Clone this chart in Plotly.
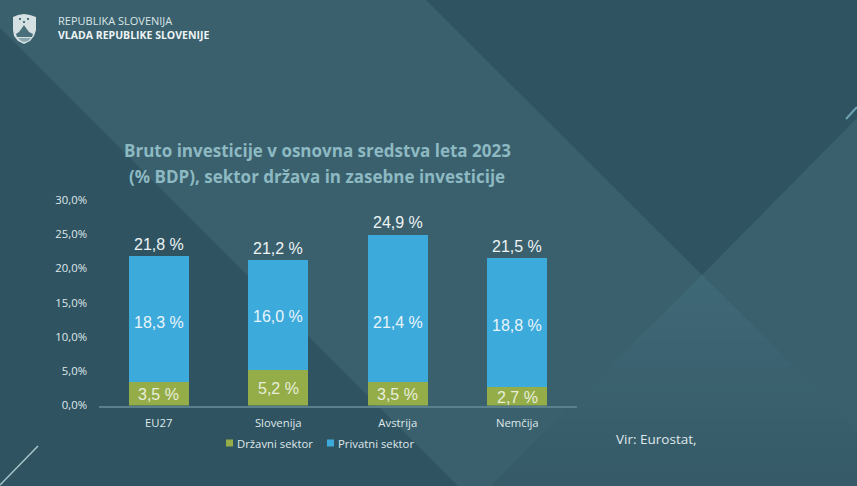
import plotly.graph_objects as go

W, H = 857, 486
categories = ["EU27", "Slovenija", "Avstrija", "Nemčija"]
drzavni = [3.5, 5.2, 3.5, 2.7]
privatni = [18.3, 16.0, 21.4, 18.8]
skupaj = [21.8, 21.2, 24.9, 21.5]
tick_values = [0, 5, 10, 15, 20, 25, 30]
tick_labels = ["0,0%", "5,0%", "10,0%", "15,0%", "20,0%", "25,0%", "30,0%"]
GREEN, BLUE = "#95ad49", "#3daadc"
TICK_FONT = dict(family="Open Sans", size=11.3, color="#dfe8ea")
# pixel nudges of the labels inside the blue bars, as placed on the slide
PRIVATE_LABEL_NUDGE = [-4, -1, -14, -3]

def lab(v):
    return f"{v:.1f} %".replace(".", ",")

def px(x): return x / W
def py(y): return 1 - y / H
def poly(pts, fill, layer="below"):
    path = "M" + " L".join(f"{px(x):.5f},{py(y):.5f}" for x, y in pts) + " Z"
    return dict(type="path", xref="paper", yref="paper", path=path, fillcolor=fill, line_width=0, layer=layer)
def seg(x0, y0, x1, y1, col, w):
    return dict(type="line", xref="paper", yref="paper", x0=px(x0), y0=py(y0), x1=px(x1), y1=py(y1),
                line=dict(color=col, width=w), layer="below")

fig = go.Figure()
fig.add_bar(name="Državni sektor", x=categories, y=drzavni, marker=dict(color=GREEN, line_width=0), hoverinfo="skip")
fig.add_bar(name="Privatni sektor", x=categories, y=privatni, marker=dict(color=BLUE, line_width=0), hoverinfo="skip")

base = "#3a606d"
dark = "#2f5361"
shapes = [
    poly([(0, 28), (458, 486), (0, 486)], dark),
    poly([(426, 0), (702, 275), (857, 118), (857, 0)], dark),
]
# the lower triangle darkens towards the bottom of the slide
top_rgb, bot_rgb = (0x3f, 0x68, 0x76), (0x36, 0x5a, 0x67)
n = 16
for i in range(n):
    t = i / (n - 1)
    y0 = 275 + i * (486 - 275) / n
    xl, xr = 702 - (y0 - 275), 702 + (y0 - 275)
    pts = [(xl, y0), (min(xr, 857), y0)]
    if xr < 857:
        pts.append((857, 430))
    pts += [(857, 486), (492, 486)]
    rgb = [round(a + (b - a) * t) for a, b in zip(top_rgb, bot_rgb)]
    shapes.append(poly(pts, f"rgb({rgb[0]},{rgb[1]},{rgb[2]})"))
shapes += [
    seg(0, 485, 38, 446, "#a9c5cc", 1.5),
    seg(846, 119, 857, 107, "#6fa3b2", 2),
    # grb
    poly([(13, 17), (18, 15), (24, 14), (30, 15), (36, 17), (36, 30), (34, 36), (30, 41), (24, 44), (18, 41), (14, 36), (13, 30)], "#d5e0e3"),
    poly([(16, 34), (19, 32), (22, 28), (24, 25), (26, 28), (29, 32), (33, 34), (32, 37), (17, 37)], "#4a6f7b"),
    poly([(18, 38), (31, 38), (28, 41), (24, 42), (21, 41)], "#8aa6ae"),
    poly([(19, 18), (21, 18), (21, 20), (19, 20)], "#4a6f7b"),
    poly([(27, 18), (29, 18), (29, 20), (27, 20)], "#4a6f7b"),
    poly([(23, 21), (25, 21), (25, 23), (23, 23)], "#4a6f7b"),
    # legend swatches
    poly([(226, 439.5), (233, 439.5), (233, 446.5), (226, 446.5)], GREEN),
    poly([(327, 439.5), (334, 439.5), (334, 446.5), (327, 446.5)], BLUE),
]

def note(x, y, text, font, xanchor="center"):
    return dict(xref="paper", yref="paper", x=px(x), y=py(y), xanchor=xanchor, yanchor="middle",
                text=text, showarrow=False, font=font, borderpad=0, borderwidth=0)
def bar_note(cat, y, text, color, shift=0):
    return dict(xref="x", yref="y", x=cat, y=y, yanchor="middle", yshift=shift, text=text, showarrow=False,
                borderpad=0, font=dict(family="Liberation Sans", size=16, color=color))

title_font = dict(family="Open Sans", size=17, color="#8db9c2", weight=700)
annotations = [
    note(317, 150, "Bruto investicije v osnovna sredstva leta 2023", title_font),
    note(317, 176, "(% BDP), sektor država in zasebne investicije", title_font),
    note(58, 21, "REPUBLIKA SLOVENIJA", dict(family="Open Sans", size=11, color="#dbe5e7"), "left"),
    note(58, 35, "VLADA REPUBLIKE SLOVENIJE", dict(family="Open Sans", size=10.5, color="#eef3f4", weight=700), "left"),
    note(616, 439, "Vir: Eurostat,", dict(family="Open Sans", size=13.5, color="#dfe8ea"), "left"),
    note(237, 443, "Državni sektor", TICK_FONT, "left"),
    note(338, 443, "Privatni sektor", TICK_FONT, "left"),
]
for c, d, p, s, nudge in zip(categories, drzavni, privatni, skupaj, PRIVATE_LABEL_NUDGE):
    annotations.append(bar_note(c, d / 2, lab(d), "#e8eedb", -1))
    annotations.append(bar_note(c, d + p / 2, lab(p), "#e9f5fb", nudge))
    annotations.append(bar_note(c, s, lab(s), "#eef3f4", 12))

fig.update_layout(
    width=W, height=H, margin=dict(l=0, r=0, t=0, b=0), autosize=False, showlegend=False,
    paper_bgcolor=base, plot_bgcolor="rgba(0,0,0,0)",
    barmode="stack", bargap=0.5, shapes=shapes, annotations=annotations,
    xaxis=dict(domain=[px(99), px(577)], categoryorder="array", categoryarray=categories, automargin=False,
               showline=True, linecolor="#5b808d", linewidth=2, showgrid=False, zeroline=False,
               ticks="", ticklabelstandoff=6, tickfont=TICK_FONT),
    yaxis=dict(domain=[py(405.5), py(200)], range=[0, 30], tickvals=tick_values, ticktext=tick_labels, automargin=False,
               showline=False, showgrid=False, zeroline=False, ticks="", ticklabelstandoff=11, tickfont=TICK_FONT),
)
fig.write_html("out.html", post_script="document.body.style.margin='0';", config=dict(displayModeBar=False))
